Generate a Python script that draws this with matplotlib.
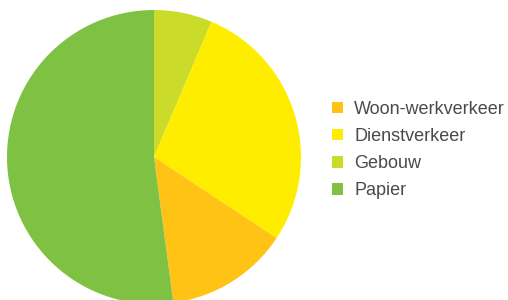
import matplotlib.pyplot as plt

# legend order
labels = ['Woon-werkverkeer', 'Dienstverkeer', 'Gebouw', 'Papier']
values = [13.6, 27.9, 6.4, 52.1]
colors = ['#FEC314', '#FFED00', '#CBDB2A', '#7FC142']

# pie goes clockwise from the top: Gebouw, Dienstverkeer, Woon-werkverkeer, Papier
pie_order = [2, 1, 0, 3]

fig = plt.figure(figsize=(5.08, 3.0), dpi=100)
W, H = 508, 300
cx, cy, r = 154, 157, 147
ax = fig.add_axes([(cx - r) / W, (H - cy - r) / H, 2 * r / W, 2 * r / H])

wedges, _ = ax.pie([values[i] for i in pie_order],
                   colors=[colors[i] for i in pie_order],
                   startangle=90, counterclock=False,
                   wedgeprops=dict(linewidth=0))
ax.set_xlim(-1, 1)
ax.set_ylim(-1, 1)
ax.set_aspect('auto')
ax.axis('off')

# legend handles back in legend order
handles = [wedges[pie_order.index(i)] for i in range(len(labels))]
leg = fig.legend(handles, labels, loc='center left',
                 bbox_to_anchor=(332 / W, 1 - 150 / H),
                 frameon=False, borderpad=0, borderaxespad=0,
                 handlelength=0.62, handleheight=0.62, handletextpad=0.6,
                 labelspacing=0.56,
                 prop={'family': 'Liberation Sans', 'size': 13})
for t in leg.get_texts():
    t.set_color('#4a4a4a')

fig.savefig('out.png', dpi=100)
